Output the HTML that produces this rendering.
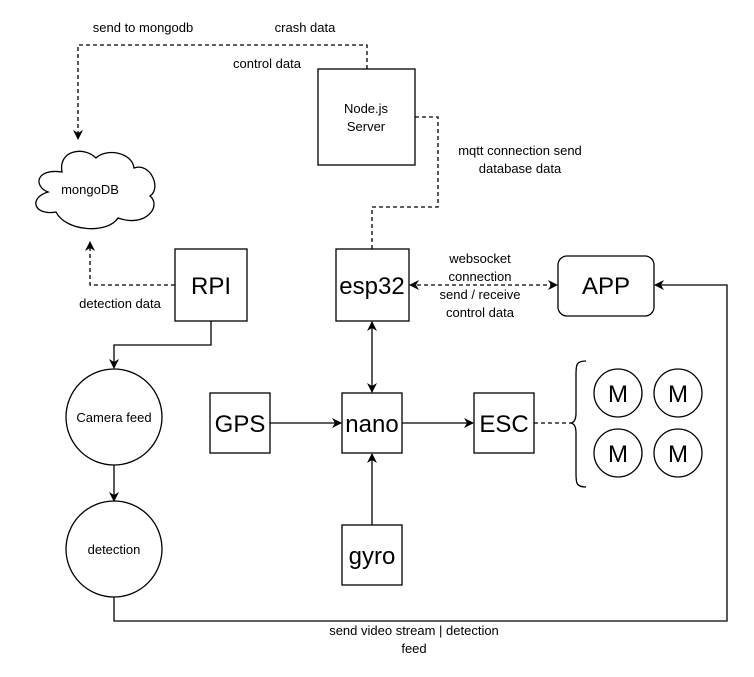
<!DOCTYPE html>
<html><head><style>html,body{margin:0;padding:0;background:#fff}svg{display:block}text{font-family:"Liberation Sans",Arial,sans-serif;fill:#000}</style></head>
<body>
<svg width="754" height="677" viewBox="0 0 754 677" xmlns="http://www.w3.org/2000/svg">
<defs>
<marker id="a" viewBox="0 0 10 10" refX="9" refY="5" markerWidth="10" markerHeight="10" markerUnits="userSpaceOnUse" orient="auto-start-reverse"><path d="M0,0 L10,5 L0,10 L3,5 z" fill="#000"/></marker>
</defs>
<g fill="none" stroke="#000" stroke-width="1.3">
<!-- dashed lines -->
<path d="M367,69 V45 H78 V139" stroke-dasharray="4,3" marker-end="url(#a)"/>
<path d="M415,117 H438 V207 H372 V249" stroke-dasharray="4,3"/>
<path d="M175,285 H90 V242" stroke-dasharray="4,3" marker-end="url(#a)"/>
<path d="M410,285 H557" stroke-dasharray="4,3" marker-start="url(#a)" marker-end="url(#a)"/>
<path d="M534,423 H570" stroke-dasharray="4,3"/>
<!-- solid -->
<path d="M211,321 V345 H114 V368" marker-end="url(#a)"/>
<path d="M114,465 V501" marker-end="url(#a)"/>
<path d="M114,597 V621 H727 V285 H655" marker-end="url(#a)"/>
<path d="M372,322 V392" marker-start="url(#a)" marker-end="url(#a)"/>
<path d="M270,423 H341" marker-end="url(#a)"/>
<path d="M402,423 H473" marker-end="url(#a)"/>
<path d="M372,525 V454" marker-end="url(#a)"/>
<!-- boxes -->
<rect x="318" y="69" width="97" height="96"/>
<rect x="175" y="249" width="72" height="72"/>
<rect x="336" y="249" width="73" height="72"/>
<rect x="558" y="256" width="96" height="60" rx="9"/>
<rect x="210" y="393" width="60" height="60"/>
<rect x="342" y="393" width="60" height="60"/>
<rect x="474" y="393" width="60" height="60"/>
<rect x="342" y="525" width="60" height="60"/>
<circle cx="114" cy="417" r="48"/>
<circle cx="114" cy="549" r="48"/>
<circle cx="618" cy="393" r="24"/>
<circle cx="678" cy="393" r="24"/>
<circle cx="618" cy="453" r="24"/>
<circle cx="678" cy="453" r="24"/>
<path d="M586,361 C576,361 576,365 576,375 V413 C576,420 574,423 570,423 C574,423 576,426 576,433 V473 C576,483 576,487 586,487"/>
<path d="M62,172 C36,168 33,186 48,192 C28,198 34,216 56,212 C66,232 108,234 118,218 C146,228 162,206 150,196 C162,188 150,162 134,168 C132,152 106,148 96,158 C84,146 58,150 62,172 z"/>
</g>
<g font-size="13" text-anchor="middle">
<text x="143" y="32">send to mongodb</text>
<text x="305" y="32">crash data</text>
<text x="267" y="68">control data</text>
<text x="366" y="113">Node.js</text>
<text x="366" y="131">Server</text>
<text x="90" y="194">mongoDB</text>
<text x="520" y="155">mqtt connection send</text>
<text x="520" y="173">database data</text>
<text x="120" y="308">detection data</text>
<text x="480" y="263">websocket</text>
<text x="480" y="281">connection</text>
<text x="480" y="299">send / receive</text>
<text x="480" y="317">control data</text>
<text x="114" y="422">Camera feed</text>
<text x="114" y="554">detection</text>
<text x="414" y="635">send video stream | detection</text>
<text x="414" y="653">feed</text>
</g>
<g font-size="24" text-anchor="middle">
<text x="211" y="294">RPI</text>
<text x="372" y="294">esp32</text>
<text x="606" y="294">APP</text>
<text x="240" y="432">GPS</text>
<text x="372" y="432">nano</text>
<text x="504" y="432">ESC</text>
<text x="372" y="564">gyro</text>
<text x="618" y="402">M</text>
<text x="678" y="402">M</text>
<text x="618" y="462">M</text>
<text x="678" y="462">M</text>
</g>
</svg>
</body></html>
